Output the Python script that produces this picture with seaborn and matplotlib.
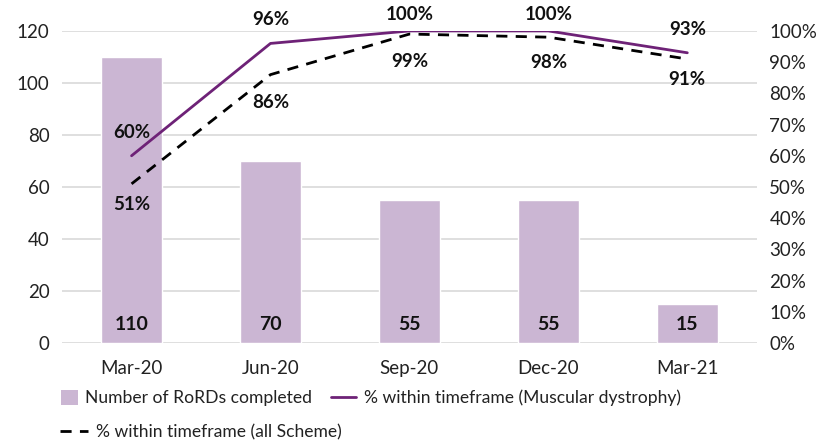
import matplotlib
matplotlib.use("Agg")
import matplotlib.pyplot as plt
import seaborn as sns
import pandas as pd
import numpy as np
from matplotlib.patches import Patch
from matplotlib.lines import Line2D

categories = ["Mar-20", "Jun-20", "Sep-20", "Dec-20", "Mar-21"]
rords_completed = [110, 70, 55, 55, 15]
pct_muscular = [60, 96, 100, 100, 93]
pct_all_scheme = [51, 86, 99, 98, 91]
left_ticks = [0, 20, 40, 60, 80, 100, 120]
right_ticks = [0, 10, 20, 30, 40, 50, 60, 70, 80, 90, 100]

# label offsets (points) for the percentage labels (style only)
above_offsets = [17, 17, 11.5, 11.5, 17]
below_offsets = [15, 20, 20, 18, 15]

bar_color = "#cbb6d3"
purple = "#6e2277"
font = ["Lato", "DejaVu Sans"]
txt = "#222222"

sns.set_theme(style="white")
plt.rcParams["font.family"] = font

df = pd.DataFrame({"cat": categories, "n": rords_completed,
                   "md": pct_muscular, "all": pct_all_scheme})

fig = plt.figure(figsize=(8.39, 4.42), dpi=100)
ax = fig.add_axes([0.074, 0.224, 0.828, 0.706])
sns.barplot(data=df, x="cat", y="n", color=bar_color, width=0.435,
            saturation=1, ax=ax, zorder=2)
ax.set_ylim(0, 120)
ax.set_xlim(-0.5, 4.5)
ax.set_yticks(left_ticks)
ax.grid(axis="y", color="#d9d9d9", linewidth=1.2, zorder=0)
ax.set_axisbelow(True)
ax.set_xlabel("")
ax.set_ylabel("")
for s in ax.spines.values():
    s.set_visible(False)
ax.tick_params(axis="both", length=0, labelsize=13.5, colors=txt)
ax.tick_params(axis="x", pad=12)
ax.tick_params(axis="y", pad=9)

for i, v in enumerate(rords_completed):
    ax.text(i, 4, f"{v}", ha="center", va="bottom", fontsize=14,
            fontweight="bold", color="#111111")

ax2 = ax.twinx()
x = np.arange(len(categories))
sns.lineplot(x=x, y=pct_muscular, ax=ax2, color=purple, linewidth=2, zorder=3)
sns.lineplot(x=x, y=pct_all_scheme, ax=ax2, color="black", linewidth=2,
             linestyle=(0, (4, 3)), zorder=3)
ax2.set_ylim(0, 100)
ax2.set_yticks(right_ticks)
ax2.set_yticklabels([f"{t}%" for t in right_ticks])
ax2.tick_params(axis="y", length=0, labelsize=13.5, colors=txt, pad=9)
for s in ax2.spines.values():
    s.set_visible(False)
ax2.grid(False)

for i, (m, a) in enumerate(zip(pct_muscular, pct_all_scheme)):
    ax2.annotate(f"{m}%", (i, m), xytext=(0, above_offsets[i]),
                 textcoords="offset points", ha="center", va="center",
                 fontsize=13.5, fontweight="bold", color="#111111")
    ax2.annotate(f"{a}%", (i, a), xytext=(0, -below_offsets[i]),
                 textcoords="offset points", ha="center", va="center",
                 fontsize=13.5, fontweight="bold", color="#111111")

h_bar = Patch(facecolor=bar_color, edgecolor="none")
h_md = Line2D([], [], color=purple, linewidth=2)
h_all = Line2D([], [], color="black", linewidth=2, linestyle=(0, (4, 3)))
lfs = 12.6
row1 = 1 - 398 / 442
row2 = 1 - 432 / 442
common = dict(frameon=False, fontsize=lfs, borderaxespad=0, borderpad=0,
              loc="center left")
leg1 = fig.legend([h_bar], ["Number of RoRDs completed"],
                  bbox_to_anchor=(61 / 839, row1), handlelength=0.95,
                  handleheight=1.0, handletextpad=0.4, **common)
leg2 = fig.legend([h_md], ["% within timeframe (Muscular dystrophy)"],
                  bbox_to_anchor=(331 / 839, row1), handlelength=1.45,
                  handletextpad=0.45, **common)
leg3 = fig.legend([h_all], ["% within timeframe (all Scheme)"],
                  bbox_to_anchor=(60 / 839, row2), handlelength=1.6,
                  handletextpad=0.45, **common)
for lg in (leg1, leg2, leg3):
    for t in lg.get_texts():
        t.set_color(txt)

fig.savefig("out.png", dpi=100)
